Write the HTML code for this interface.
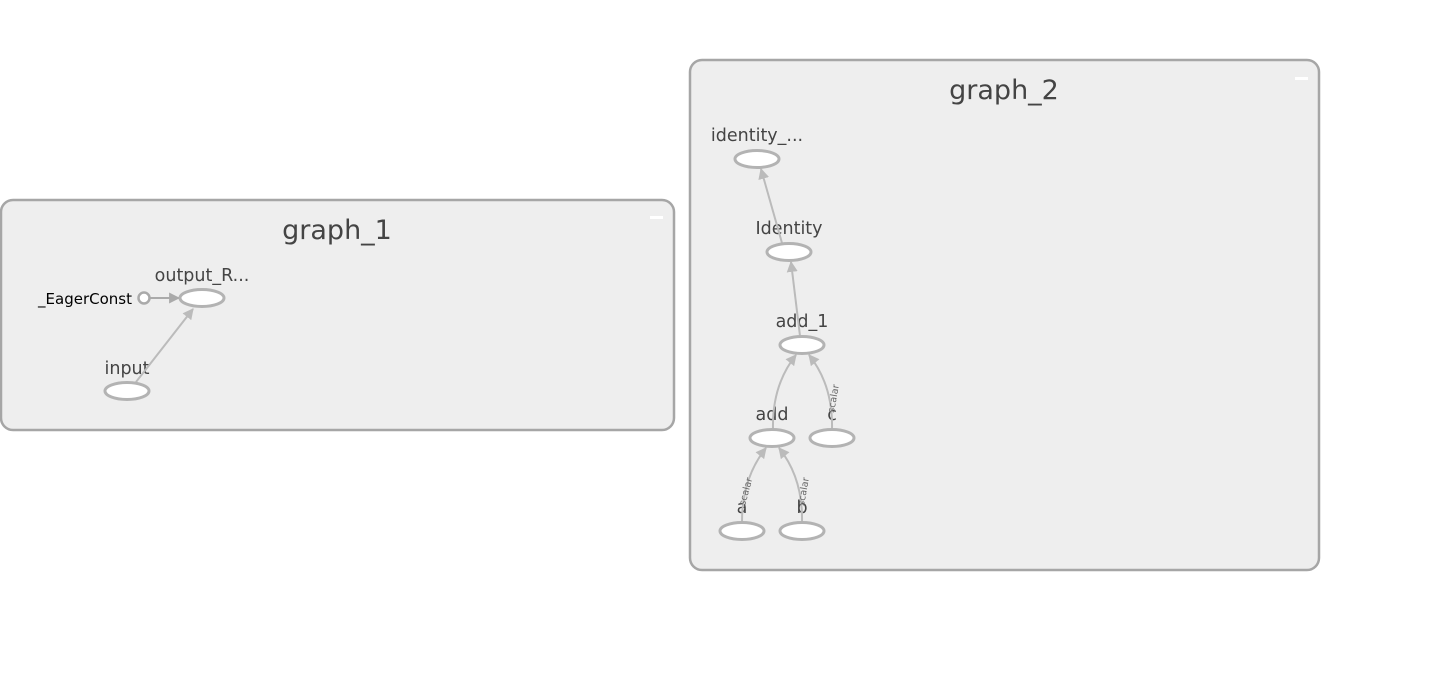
<!DOCTYPE html>
<html><head><meta charset="utf-8"><style>
html,body{margin:0;padding:0;background:#fff;width:1440px;height:690px;overflow:hidden}
text{font-family:"DejaVu Sans","Liberation Sans",sans-serif}
</style></head><body>
<svg width="1440" height="690" viewBox="0 0 1440 690" xmlns="http://www.w3.org/2000/svg">
<defs>
<marker id="ar" viewBox="0 0 10 10" refX="9" refY="5" markerWidth="5.5" markerHeight="5.5" orient="auto"><path d="M0,0L10,5L0,10z" fill="#bbb"/></marker>
<marker id="ar2" viewBox="0 0 10 10" refX="9" refY="5" markerWidth="5.5" markerHeight="5.5" orient="auto"><path d="M0,0L10,5L0,10z" fill="#aaa"/></marker>
</defs>
<!-- graph_1 -->
<rect x="1" y="200" width="673" height="230" rx="12" fill="#eeeeee" stroke="#a6a6a6" stroke-width="2.5"/>
<text x="337" y="239" font-size="27" fill="#444" text-anchor="middle">graph_1</text>
<rect x="650" y="216" width="13" height="3" fill="#fff"/>
<text x="202" y="281" font-size="17.5" fill="#444" text-anchor="middle">output_R...</text>
<text x="127" y="374" font-size="17.5" fill="#444" text-anchor="middle">input</text>
<text x="132" y="304" font-size="15" fill="#000" text-anchor="end">_EagerConst</text>
<line x1="150" y1="298" x2="179" y2="298" stroke="#aaa" stroke-width="2" marker-end="url(#ar2)"/>
<circle cx="144" cy="298" r="5.5" fill="#fff" stroke="#aaa" stroke-width="2.5"/>
<line x1="136" y1="382" x2="193" y2="309" stroke="#bbb" stroke-width="2" marker-end="url(#ar)"/>
<ellipse cx="202" cy="298" rx="22" ry="8.5" fill="#fff" stroke="#b3b3b3" stroke-width="3"/>
<ellipse cx="127" cy="391" rx="22" ry="8.5" fill="#fff" stroke="#b3b3b3" stroke-width="3"/>
<!-- graph_2 -->
<rect x="690" y="60" width="629" height="510" rx="12" fill="#eeeeee" stroke="#a6a6a6" stroke-width="2.5"/>
<text x="1004" y="99" font-size="27" fill="#444" text-anchor="middle">graph_2</text>
<rect x="1295" y="77" width="13" height="3" fill="#fff"/>
<g font-size="17.5" fill="#444" text-anchor="middle">
<text x="757" y="141">identity_...</text>
<text x="789" y="234">Identity</text>
<text x="802" y="327">add_1</text>
<text x="772" y="420">add</text>
<text x="832" y="420">c</text>
<text x="742" y="513">a</text>
<text x="802" y="513">b</text>
</g>
<g stroke="#bbb" stroke-width="2" fill="none">
<line x1="782" y1="243" x2="761" y2="169" marker-end="url(#ar)"/>
<line x1="800" y1="336" x2="791" y2="262" marker-end="url(#ar)"/>
<path d="M773 429 Q772 385 796 355" marker-end="url(#ar)"/>
<path d="M832 429 Q833 385 809 355" marker-end="url(#ar)"/>
<path d="M742 522 Q742 478 766 448" marker-end="url(#ar)"/>
<path d="M802 522 Q803 478 779 448" marker-end="url(#ar)"/>
</g>
<g font-size="9.5" fill="#666">
<text transform="translate(834,413) rotate(-80)">scalar</text>
<text transform="translate(745,506) rotate(-75)">scalar</text>
<text transform="translate(804,506) rotate(-80)">scalar</text>
</g>
<g fill="#fff" stroke="#b3b3b3" stroke-width="3">
<ellipse cx="757" cy="159" rx="22" ry="8.5"/>
<ellipse cx="789" cy="252" rx="22" ry="8.5"/>
<ellipse cx="802" cy="345" rx="22" ry="8.5"/>
<ellipse cx="772" cy="438" rx="22" ry="8.5"/>
<ellipse cx="832" cy="438" rx="22" ry="8.5"/>
<ellipse cx="742" cy="531" rx="22" ry="8.5"/>
<ellipse cx="802" cy="531" rx="22" ry="8.5"/>
</g>
</svg>
</body></html>
